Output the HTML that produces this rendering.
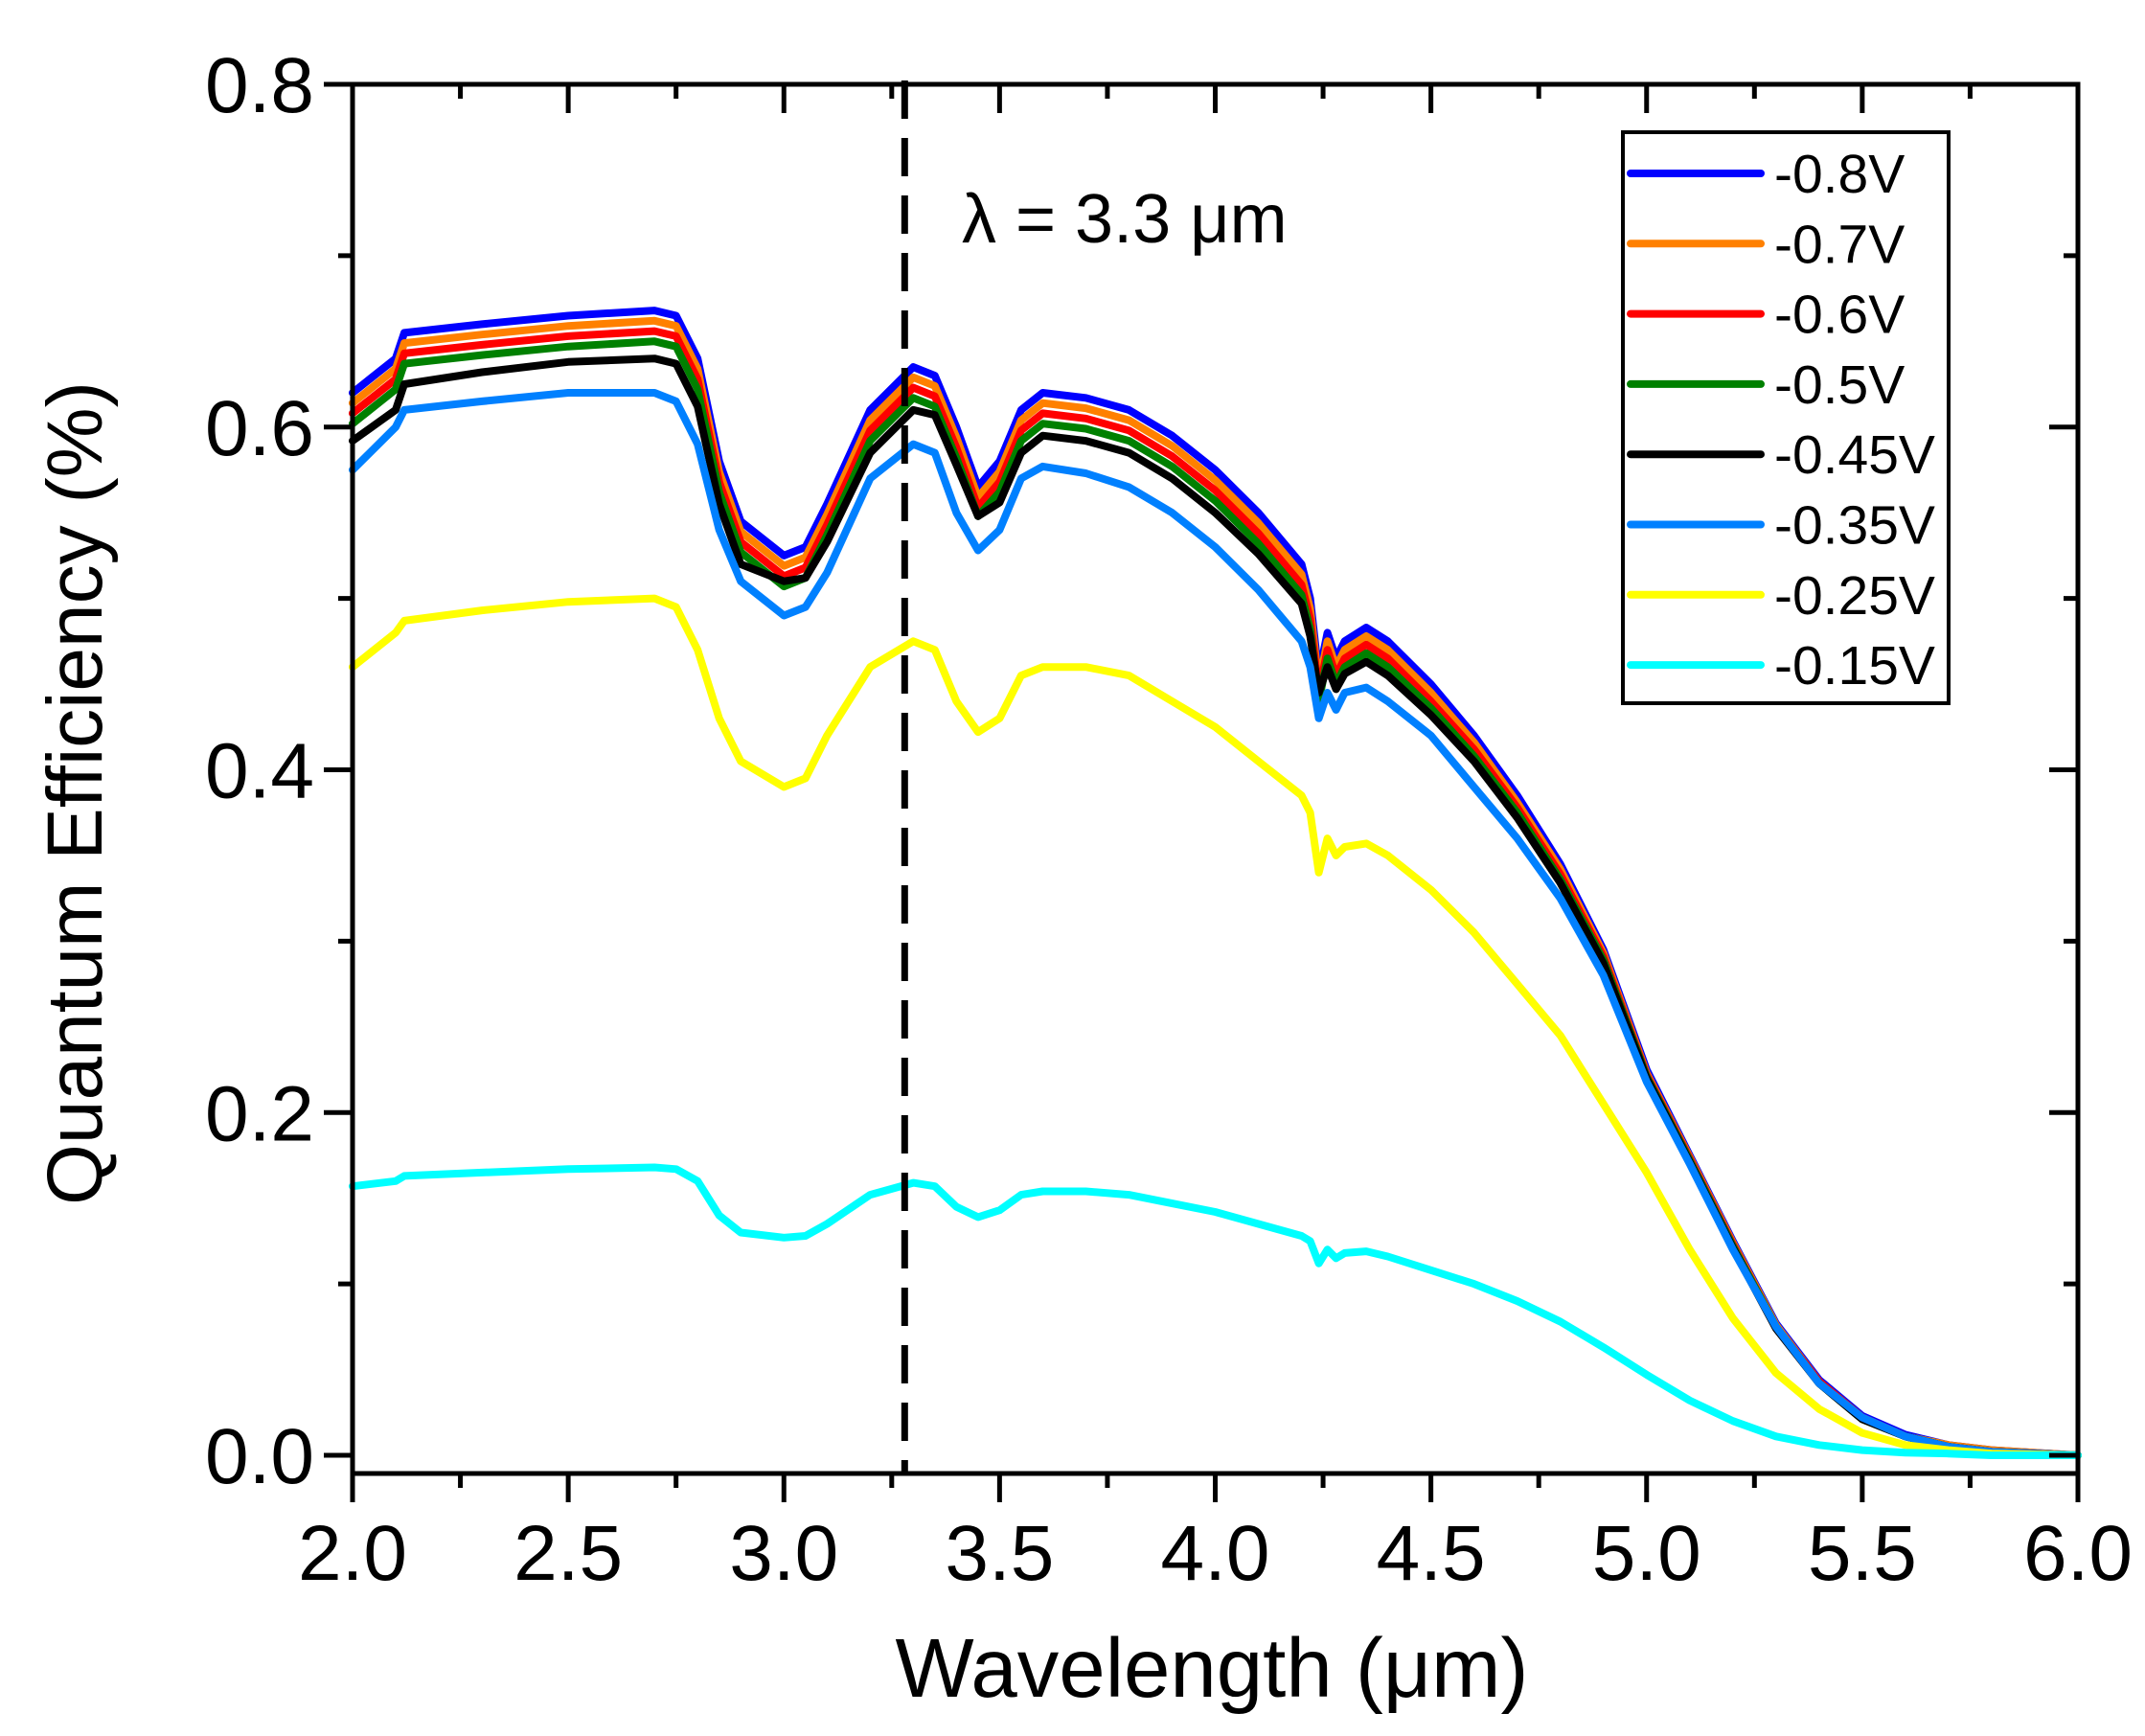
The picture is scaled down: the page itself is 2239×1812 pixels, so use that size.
<!DOCTYPE html>
<html><head><meta charset="utf-8"><style>
html,body{margin:0;padding:0;background:#fff;}
svg{display:block;font-family:"Liberation Sans",Arial,sans-serif;}
</style></head><body>
<svg id="chart" width="2239" height="1812" viewBox="0 0 2239 1812" xmlns="http://www.w3.org/2000/svg">
<g id="series"></g>
<g id="axes"></g>
<text x="0" y="0" transform="translate(106,828) rotate(-90)" text-anchor="middle" font-size="82">Quantum Efficiency (%)</text>
<text x="1265" y="1771" text-anchor="middle" font-size="87">Wavelength (μm)</text>
<text x="1004" y="253" font-size="72">λ = 3.3 μm</text>
<g id="legend"></g>
</svg>
<script>
const wavelengths=[2.0,2.1,2.12,2.3,2.5,2.7,2.75,2.8,2.85,2.9,3.0,3.05,3.1,3.2,3.3,3.35,3.4,3.45,3.5,3.55,3.6,3.7,3.8,3.9,4.0,4.1,4.2,4.22,4.24,4.26,4.28,4.3,4.35,4.4,4.5,4.6,4.7,4.8,4.9,5.0,5.1,5.2,5.3,5.4,5.5,5.6,5.7,5.8,6.0];
const qe_m080=[0.62,0.64,0.655,0.66,0.665,0.668,0.665,0.64,0.58,0.545,0.525,0.53,0.555,0.61,0.635,0.63,0.60,0.565,0.58,0.61,0.62,0.617,0.61,0.595,0.575,0.55,0.52,0.50,0.455,0.48,0.465,0.475,0.483,0.475,0.45,0.42,0.385,0.345,0.295,0.225,0.175,0.125,0.077,0.044,0.023,0.012,0.006,0.003,0.0];
const qe_m070=[0.614,0.634,0.649,0.654,0.659,0.662,0.659,0.634,0.574,0.539,0.519,0.524,0.549,0.604,0.629,0.624,0.594,0.559,0.574,0.604,0.614,0.611,0.604,0.589,0.569,0.544,0.514,0.494,0.45,0.475,0.46,0.47,0.478,0.47,0.445,0.416,0.381,0.342,0.293,0.223,0.174,0.124,0.076,0.043,0.022,0.011,0.006,0.003,0.0];
const qe_m060=[0.608,0.628,0.643,0.648,0.653,0.656,0.653,0.628,0.568,0.533,0.513,0.518,0.543,0.598,0.623,0.618,0.588,0.553,0.568,0.598,0.608,0.605,0.598,0.583,0.563,0.538,0.508,0.488,0.445,0.47,0.455,0.465,0.473,0.465,0.44,0.412,0.378,0.339,0.291,0.222,0.173,0.123,0.075,0.043,0.022,0.011,0.005,0.002,0.0];
const qe_m050=[0.602,0.622,0.637,0.642,0.647,0.65,0.647,0.622,0.562,0.527,0.507,0.512,0.537,0.592,0.617,0.612,0.582,0.548,0.562,0.592,0.602,0.599,0.592,0.577,0.557,0.532,0.502,0.482,0.44,0.465,0.45,0.46,0.468,0.46,0.436,0.408,0.375,0.336,0.289,0.221,0.172,0.122,0.075,0.042,0.021,0.011,0.005,0.002,0.0];
const qe_m045=[0.592,0.61,0.625,0.632,0.638,0.64,0.637,0.612,0.555,0.52,0.51,0.512,0.533,0.585,0.61,0.607,0.578,0.548,0.556,0.585,0.595,0.592,0.585,0.57,0.55,0.526,0.497,0.478,0.445,0.46,0.447,0.456,0.463,0.455,0.432,0.405,0.372,0.334,0.287,0.22,0.171,0.121,0.074,0.042,0.021,0.011,0.005,0.002,0.0];
const qe_m035=[0.575,0.60,0.61,0.615,0.62,0.62,0.615,0.59,0.54,0.51,0.49,0.495,0.515,0.57,0.59,0.585,0.55,0.528,0.54,0.57,0.577,0.573,0.565,0.55,0.53,0.505,0.475,0.46,0.43,0.445,0.435,0.445,0.448,0.44,0.42,0.39,0.36,0.325,0.28,0.218,0.17,0.12,0.075,0.042,0.022,0.011,0.005,0.002,0.0];
const qe_m025=[0.46,0.48,0.487,0.493,0.498,0.50,0.495,0.47,0.43,0.405,0.39,0.395,0.42,0.46,0.475,0.47,0.44,0.422,0.43,0.455,0.46,0.46,0.455,0.44,0.425,0.405,0.385,0.375,0.34,0.36,0.35,0.355,0.357,0.35,0.33,0.305,0.275,0.245,0.205,0.165,0.12,0.08,0.048,0.027,0.013,0.006,0.003,0.001,0.0];
const qe_m015=[0.157,0.16,0.163,0.165,0.167,0.168,0.167,0.16,0.14,0.13,0.127,0.128,0.135,0.152,0.159,0.157,0.145,0.139,0.143,0.152,0.154,0.154,0.152,0.147,0.142,0.135,0.128,0.125,0.112,0.12,0.115,0.118,0.119,0.116,0.108,0.1,0.09,0.078,0.063,0.047,0.032,0.02,0.011,0.006,0.003,0.0015,0.001,0.0,0.0];
const seriesLabels=["-0.8V","-0.7V","-0.6V","-0.5V","-0.45V","-0.35V","-0.25V","-0.15V"];
const xTicks=[2.0,2.5,3.0,3.5,4.0,4.5,5.0,5.5,6.0];
const yTicks=[0.0,0.2,0.4,0.6,0.8];
const markerWavelength=[3.28];

const seriesData=[qe_m080,qe_m070,qe_m060,qe_m050,qe_m045,qe_m035,qe_m025,qe_m015];
const colors=["#0000ff","#ff8000","#ff0000","#008000","#000000","#0080ff","#ffff00","#00ffff"];
const NS="http://www.w3.org/2000/svg";
const L=368,R=2169,T=88,Y0=1519,B=1538;
const X=v=>L+(v-2)/4*(R-L);
const Y=v=>Y0-v/0.8*(Y0-T);
function mk(tag,attrs,parent){const e=document.createElementNS(NS,tag);for(const k in attrs)e.setAttribute(k,attrs[k]);parent.appendChild(e);return e;}
const sg=document.getElementById('series'),ag=document.getElementById('axes'),lg=document.getElementById('legend');

seriesData.forEach((s,i)=>{
  const d=s.map((v,j)=>(j?'L':'M')+X(wavelengths[j]).toFixed(1)+','+Y(v).toFixed(1)).join(' ');
  const p=mk('path',{d:d,fill:'none',stroke:colors[i],'stroke-width':8,'stroke-linejoin':'round','stroke-linecap':'round'},sg);
  
  
});

const dl=mk('line',{x1:X(markerWavelength[0]),x2:X(markerWavelength[0]),y1:84,y2:1536,stroke:'#000','stroke-width':7,'stroke-dasharray':'40 20'},ag);



const fr=mk('rect',{x:L,y:T,width:R-L,height:B-T,fill:'none',stroke:'#000','stroke-width':5},ag);



xTicks.forEach((t,i)=>{
  const x=X(t);
  const tk=mk('line',{x1:x,x2:x,y1:B,y2:B+30,stroke:'#000','stroke-width':5},ag);
  
  
  mk('line',{x1:x,x2:x,y1:T,y2:T+30,stroke:'#000','stroke-width':5},ag);
  if(i<xTicks.length-1){const xm=X(t+0.25);
    mk('line',{x1:xm,x2:xm,y1:B,y2:B+15,stroke:'#000','stroke-width':5},ag);
    mk('line',{x1:xm,x2:xm,y1:T,y2:T+15,stroke:'#000','stroke-width':5},ag);}
  const lb=mk('text',{x:x,y:1649,'text-anchor':'middle','font-size':82},ag);
  lb.textContent=t.toFixed(1);
  
  
});
yTicks.forEach((t,i)=>{
  const y=Y(t);
  const tk=mk('line',{x1:L-30,x2:L,y1:y,y2:y,stroke:'#000','stroke-width':5},ag);
  
  
  mk('line',{x1:R-30,x2:R,y1:y,y2:y,stroke:'#000','stroke-width':5},ag);
  if(i<yTicks.length-1){const ym=Y(t+0.1);
    mk('line',{x1:L-15,x2:L,y1:ym,y2:ym,stroke:'#000','stroke-width':5},ag);
    mk('line',{x1:R-15,x2:R,y1:ym,y2:ym,stroke:'#000','stroke-width':5},ag);}
  const lb=mk('text',{x:328,y:y+29,'text-anchor':'end','font-size':82},ag);
  lb.textContent=t.toFixed(1);
  
  
});

const lbx=mk('rect',{x:1694,y:138,width:340,height:596,fill:'#fff',stroke:'#000','stroke-width':4},lg);


seriesLabels.forEach((s,i)=>{
  const y=181+i*73.3;
  const g=mk('g',{},lg);
  
  
  mk('line',{x1:1702,x2:1838,y1:y,y2:y,stroke:colors[i],'stroke-width':8,'stroke-linecap':'round'},g);
  const t=mk('text',{x:1852,y:y+20,'font-size':57},g);
  t.textContent=s;
});
</script>
</body></html>
